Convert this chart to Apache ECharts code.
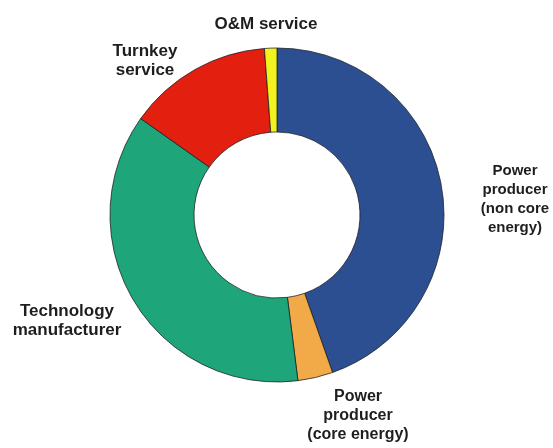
<!DOCTYPE html>
<html>
<head>
<meta charset="utf-8">
<style>
  html, body { margin: 0; padding: 0; background: #ffffff; }
  #chart { width: 553px; height: 448px; }
</style>
<script src="https://cdn.jsdelivr.net/npm/echarts@6/dist/echarts.min.js"></script>
</head>
<body>
<div id="chart"></div>
<script>
// Market share by business type (%)
const categories = [
  'Power\nproducer\n(non core\nenergy)',
  'Power\nproducer\n(core energy)',
  'Technology\nmanufacturer',
  'Turnkey\nservice',
  'O&M service'
];
const shares = [44.6, 3.4, 36.8, 14.0, 1.2];
const sliceColors = ['#2c4f92', '#f2a948', '#1fa57a', '#e3200f', '#f2f21e'];

// Where each category's text block sits (centre of the block, in px)
const labelSpots = [
  { x: 515, y: 199, size: 15 },
  { x: 358, y: 416, size: 16 },
  { x: 67,  y: 321, size: 17 },
  { x: 145, y: 61,  size: 17 },
  { x: 266, y: 24,  size: 17 }
];

const chart = echarts.init(document.getElementById('chart'), null, { renderer: 'canvas' });

chart.setOption({
  backgroundColor: '#ffffff',
  animation: false,
  series: [{
    type: 'pie',
    center: [277, 215],
    radius: [83, 167],
    startAngle: 90,
    clockwise: true,
    avoidLabelOverlap: false,
    itemStyle: {
      borderColor: 'rgba(25,25,35,0.75)',
      borderWidth: 1
    },
    label: {
      show: true,
      position: 'outside',
      formatter: '{b}',
      color: '#1e1e1e',
      fontFamily: '"Liberation Sans", Arial, sans-serif',
      fontWeight: 'bold',
      fontSize: 17,
      lineHeight: 19,
      align: 'center'
    },
    labelLine: { show: false },
    labelLayout: function (params) {
      const spot = labelSpots[params.dataIndex];
      return {
        x: spot.x,
        y: spot.y,
        align: 'center',
        verticalAlign: 'middle',
        hideOverlap: false,
        moveOverlap: null,
        fontSize: spot.size
      };
    },
    data: categories.map((name, i) => ({
      name: name,
      value: shares[i],
      itemStyle: { color: sliceColors[i] },
      label: { fontSize: labelSpots[i].size }
    }))
  }]
});
</script>
</body>
</html>
